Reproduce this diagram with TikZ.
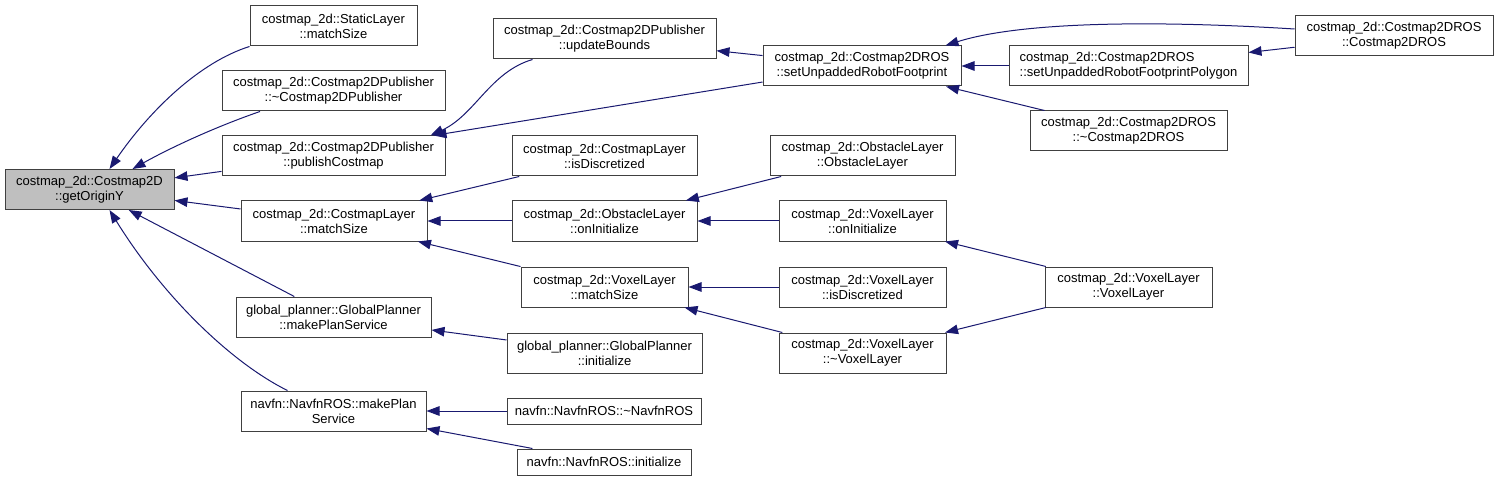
\documentclass[tikz,border=0pt]{standalone}
\usepackage{fontspec}
\setmainfont{Liberation Sans}
\usetikzlibrary{arrows.meta, positioning, calc}
\definecolor{edgeblue}{HTML}{191970}
\definecolor{border}{HTML}{404040}
\definecolor{hlgray}{HTML}{BFBFBF}
\tikzset{
  box/.style={draw=border, fill=white, line width=1pt, inner sep=0pt, minimum height=40pt,
              align=center, font=\fontsize{13}{15}\selectfont, text=black},
  hbox/.style={box, fill=hlgray},
  fl/.style={-{Triangle[length=13pt, width=9.5pt]}, line width=1pt, draw=edgeblue},
}
\begin{document}
\begin{tikzpicture}[x=1pt, y=-1pt]
  \useasboundingbox (0,0) rectangle (1499,481);
  \node[hbox, minimum width=169pt] (orig) at (89.5,189.5) {costmap\_2d::Costmap2D\\::getOriginY};
  \node[box, minimum width=167pt] (smatch) at (333.5,26) {costmap\_2d::StaticLayer\\::matchSize};
  \node[box, minimum width=223pt] (pubdtor) at (333.5,91) {costmap\_2d::Costmap2DPublisher\\::\textasciitilde Costmap2DPublisher};
  \node[box, minimum width=223pt] (pubcost) at (333.5,156) {costmap\_2d::Costmap2DPublisher\\::publishCostmap};
  \node[box, minimum width=186pt] (clmatch) at (334,221) {costmap\_2d::CostmapLayer\\::matchSize};
  \node[box, minimum width=195pt] (gpmps) at (333.5,317) {global\_planner::GlobalPlanner\\::makePlanService};
  \node[box, minimum width=185pt] (nfmps) at (333.5,411) {navfn::NavfnROS::makePlan\\Service};
  \node[box, minimum width=223pt] (upb) at (604.5,39) {costmap\_2d::Costmap2DPublisher\\::updateBounds};
  \node[box, minimum width=185pt] (clisd) at (604.5,156) {costmap\_2d::CostmapLayer\\::isDiscretized};
  \node[box, minimum width=185pt] (olinit) at (604.5,221) {costmap\_2d::ObstacleLayer\\::onInitialize};
  \node[box, minimum width=167pt] (vlmatch) at (604.5,287) {costmap\_2d::VoxelLayer\\::matchSize};
  \node[box, minimum width=195pt] (gpinit) at (604.5,353) {global\_planner::GlobalPlanner\\::initialize};
  \node[box, minimum width=194pt, minimum height=26pt] (nfdtor) at (604,411) {navfn::NavfnROS::\textasciitilde NavfnROS};
  \node[box, minimum width=174pt, minimum height=26pt] (nfinit) at (604,462) {navfn::NavfnROS::initialize};
  \node[box, minimum width=198pt] (sufp) at (862,66) {costmap\_2d::Costmap2DROS\\::setUnpaddedRobotFootprint};
  \node[box, minimum width=185pt] (olctor) at (862.5,156) {costmap\_2d::ObstacleLayer\\::ObstacleLayer};
  \node[box, minimum width=167pt] (vlinit) at (862.5,221) {costmap\_2d::VoxelLayer\\::onInitialize};
  \node[box, minimum width=167pt] (vlisd) at (862.5,287) {costmap\_2d::VoxelLayer\\::isDiscretized};
  \node[box, minimum width=167pt] (vldtor) at (862.5,353) {costmap\_2d::VoxelLayer\\::\textasciitilde VoxelLayer};
  \node[box, minimum width=239pt, align=left] (sufpp) at (1128.5,66) {costmap\_2d::Costmap2DROS\\::setUnpaddedRobotFootprintPolygon};
  \node[box, minimum width=197pt] (rosdtor) at (1128.5,131) {costmap\_2d::Costmap2DROS\\::\textasciitilde Costmap2DROS};
  \node[box, minimum width=167pt] (vlctor) at (1128.5,287) {costmap\_2d::VoxelLayer\\::VoxelLayer};
  \node[box, minimum width=198pt] (rosctor) at (1394,36) {costmap\_2d::Costmap2DROS\\::Costmap2DROS};

  \draw[fl] (smatch.south west) .. controls (200,62) and (150,110) .. ([xshift=20pt]orig.north);
  \draw[fl] ([xshift=-73.5pt]pubdtor.south) .. controls (215,127) and (170,148) .. ([xshift=43pt]orig.north);
  \draw[fl] (pubcost) -- (orig);
  \draw[fl] (clmatch) -- (orig);
  \draw[fl] (gpmps) -- (orig);
  \draw[fl] ([xshift=-46pt]nfmps.north) .. controls (230,362) and (162,295) .. ([xshift=20pt]orig.south);
  \draw[fl] ([xshift=40pt]upb.south west) .. controls (490,72) and (475,115) .. ([xshift=-15pt]pubcost.north east);
  \draw[fl] (sufp) -- ([xshift=-12pt]pubcost.north east);
  \draw[fl] (clisd) -- (clmatch);
  \draw[fl] (olinit) -- (clmatch);
  \draw[fl] (vlmatch) -- (clmatch);
  \draw[fl] (gpinit) -- (gpmps);
  \draw[fl] (nfdtor) -- (nfmps);
  \draw[fl] (nfinit) -- (nfmps);
  \draw[fl] (sufp) -- (upb);
  \draw[fl] ([yshift=7pt]rosctor.west) .. controls (1150,20) and (1020,22) .. ([xshift=-16pt]sufp.north east);
  \draw[fl] (sufpp) -- (sufp);
  \draw[fl] (rosdtor) -- (sufp);
  \draw[fl] (rosctor) -- (sufpp);
  \draw[fl] (olctor) -- (olinit);
  \draw[fl] (vlinit) -- (olinit);
  \draw[fl] (vlctor) -- (vlinit);
  \draw[fl] (vlisd) -- (vlmatch);
  \draw[fl] (vldtor) -- (vlmatch);
  \draw[fl] (vlctor) -- (vldtor);
\end{tikzpicture}
\end{document}
